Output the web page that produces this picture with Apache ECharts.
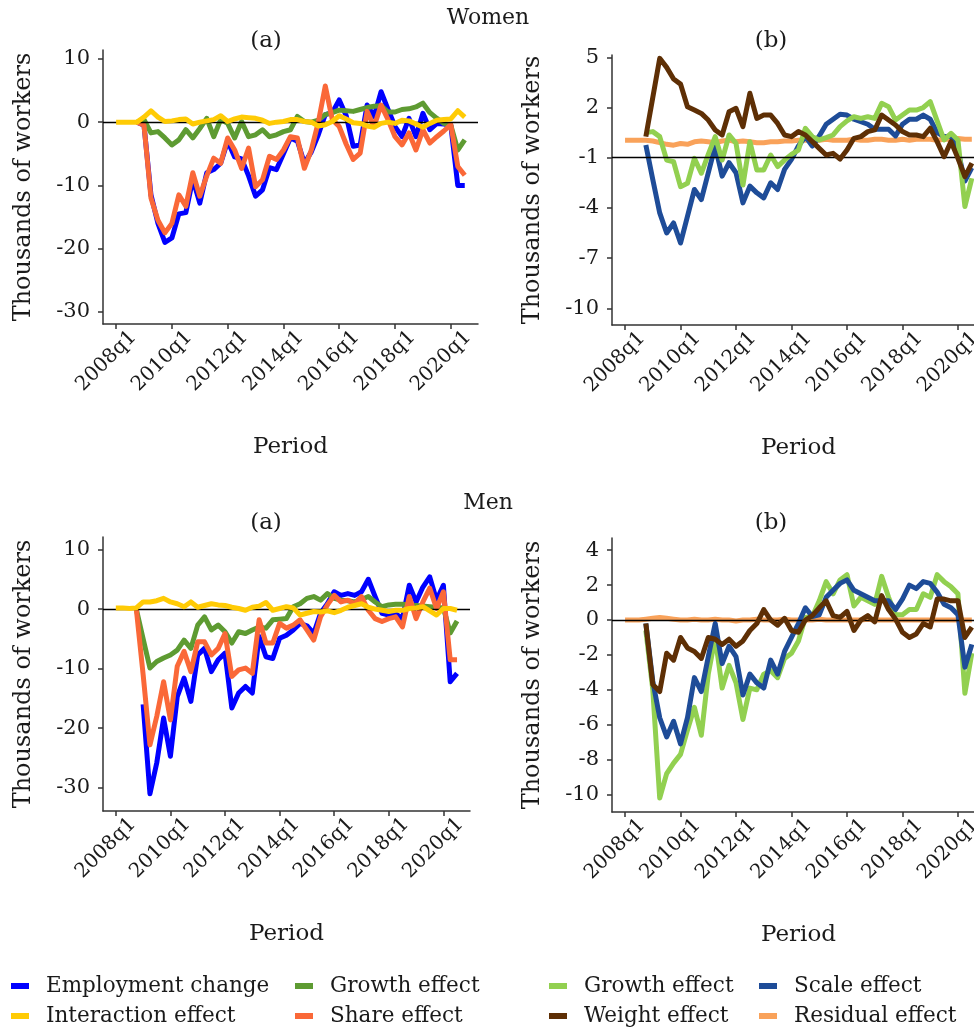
<!DOCTYPE html>
<html><head><meta charset="utf-8">
<script src="https://cdn.jsdelivr.net/npm/echarts@6/dist/echarts.min.js"></script>
<style>html,body{margin:0;padding:0;background:#fff}#c{width:974px;height:1030px}</style>
</head><body><div id="c"></div>
<script>
// ---------- DATA ----------
const periods = ['2008q1','2008q2','2008q3','2008q4','2009q1','2009q2','2009q3','2009q4',
'2010q1','2010q2','2010q3','2010q4','2011q1','2011q2','2011q3','2011q4',
'2012q1','2012q2','2012q3','2012q4','2013q1','2013q2','2013q3','2013q4',
'2014q1','2014q2','2014q3','2014q4','2015q1','2015q2','2015q3','2015q4',
'2016q1','2016q2','2016q3','2016q4','2017q1','2017q2','2017q3','2017q4',
'2018q1','2018q2','2018q3','2018q4','2019q1','2019q2','2019q3','2019q4',
'2020q1','2020q2','2020q3'];
const xTickLabels = ['2008q1','2010q1','2012q1','2014q1','2016q1','2018q1','2020q1'];

// Women (a)
const womenEmployment = [null,null,null,0,-0.5,-11.5,-16,-19,-18.3,-14.5,-14.3,-9,-12.8,-8,-7.5,-6.5,-3,-5.5,-5.8,-8.5,-11.7,-10.7,-7.2,-7.5,-5,-2.5,-3,-6.5,-4.7,-2,1.2,1.5,3.5,1,-3.8,-3.6,2.7,0.9,4.8,2,-0.7,-2.3,0.6,-2.3,1.4,-1.2,-0.2,-0.3,-0.5,-10,-10];
const womenGrowthA = [null,null,null,0,0.4,-1.7,-1.5,-2.5,-3.6,-2.8,-1.2,-2.5,-1,0.6,-2.3,0.4,-0.2,-2.5,0.1,-2.3,-2,-1.2,-2.3,-2,-1.5,-1.2,0.9,0.1,0,0.3,1.2,1.5,1.9,1.8,1.7,2,2.3,2.5,2.6,1.6,1.6,2,2.1,2.4,3,1.5,0.6,-0.2,-0.5,-4.4,-2.8];
const womenShare = [null,null,null,0,-0.5,-12,-15.5,-17.5,-16,-11.5,-13.3,-8,-11.7,-8.5,-5.7,-6.5,-2.5,-4.4,-7.3,-4.1,-10.2,-9.1,-5.4,-5.9,-4.4,-2.3,-2.5,-7.3,-4.4,0,5.7,0.4,-0.7,-3.5,-5.9,-4.9,1.7,-0.7,2.7,0.4,-2.3,-3.6,-1.7,-4.4,-1.2,-3.3,-2.3,-1.4,-0.4,-7,-8.4];
const womenInteraction = [0,0,0,0,0.8,1.8,0.8,0.1,0.2,0.4,0.5,-0.3,0,0.2,0.4,1,0.1,0.5,0.8,0.7,0.6,0.3,-0.2,0,0.1,0.4,0.4,0.1,0,-0.6,-0.4,0.1,1,0.5,-0.1,-0.2,-0.6,-0.8,-0.2,0,-0.2,0.3,0.2,-0.3,-0.8,-0.2,0.3,0.4,0.5,1.8,0.8];
// Women (b)
const womenGrowthB = [null,null,null,0.5,0.56,0.26,-1.14,-1.24,-2.73,-2.53,-1.04,-1.93,-0.8,0.26,-1.14,0.36,-0.14,-2.63,-0.04,-1.73,-1.73,-0.84,-1.53,-1.14,-0.8,-0.54,0.76,0.26,0.06,0.2,0.36,0.86,1.2,1.45,1.35,1.45,1.35,2.25,2.05,1.25,1.55,1.85,1.85,2.0,2.35,1.2,0.06,0.46,0.06,-3.92,-2.23];
const womenScale = [null,null,null,-0.24,-2.3,-4.3,-5.5,-4.9,-6.1,-4.5,-2.9,-3.5,-1.9,-0.3,-2.1,-1.3,-1.9,-3.7,-2.7,-3.1,-3.4,-2.5,-2.9,-1.7,-1.1,-0.3,0.26,-0.3,0.3,1,1.3,1.6,1.55,1.3,1.15,1,0.7,0.7,0.7,0.3,1,1.3,1.3,1.55,1.3,0.5,0.26,0.3,-0.6,-2.4,-1.6];
const womenWeight = [null,null,null,0.26,2.6,4.94,4.4,3.7,3.4,2.05,1.85,1.65,1.25,0.66,0.36,1.75,1.95,0.86,2.85,1.35,1.55,1.55,1.05,0.36,0.26,0.56,0.36,-0.04,-0.44,-0.84,-0.74,-1.08,-0.54,0.16,0.26,0.56,0.66,1.55,1.25,0.96,0.56,0.36,0.36,0.26,0.76,-0.04,-0.94,-0.04,-1.04,-2.13,-1.33];
const womenResidual = [0.05,0.05,0.05,0.05,0,-0.1,-0.2,-0.25,-0.15,-0.2,-0.05,0,-0.05,-0.1,0,0.05,-0.05,0,-0.05,-0.1,-0.1,-0.05,-0.05,0,0,0.05,0.05,0.05,0.05,0.1,0.05,0.05,0.05,0.1,0.05,0.05,0.1,0.1,0.05,0.05,0.1,0.05,0.1,0.1,0.1,0.05,0.1,0.1,0.15,0.1,0.1];
// Men (a)
const menEmployment = [null,null,null,null,-16,-31,-25.8,-18.3,-24.7,-14.7,-11.6,-15.5,-7.7,-6.6,-10.5,-8.5,-7.4,-16.6,-14.1,-13,-14.1,-4.6,-8,-8.3,-4.9,-4.4,-3.5,-2.4,-2.8,-4.1,-0.7,0.9,2.9,2.3,2.6,2.3,2.9,5,2.1,-0.7,-1,-0.8,-1.6,4,1.2,3.7,5.4,1.5,4,-12.2,-10.8];
const menGrowthA = [null,null,null,0,-5,-9.9,-8.8,-8.2,-7.7,-6.9,-5.2,-6.6,-2.7,-1.3,-3.5,-2.7,-3.8,-5.7,-3.8,-4.1,-3.5,-3,-3.2,-1.8,-1.7,-1.6,0.4,0.9,1.8,2.1,1.5,2.6,1.8,1.5,1.4,1.2,1.6,2.1,1.2,0.4,0.7,0.8,0.8,0.7,0.6,0.5,0.4,0.3,0.2,-4,-2];
const menShare = [null,null,null,0,-11,-22.8,-18,-12.2,-18.6,-9.6,-7.1,-10.5,-5.5,-5.5,-7.7,-6.6,-4.1,-11.3,-10.2,-9.9,-10.8,-1.8,-5.7,-5.7,-2.4,-3.2,-2.7,-1.8,-3.5,-5.2,-1.3,0.7,2.3,1.2,1.5,0.9,2.1,-0.2,-1.6,-2.1,-1.6,-1.3,-3,2.1,-1.6,1.2,3.5,0.1,2.9,-8.5,-8.5];
const menInteraction = [0.2,0.2,0.1,0.2,1.2,1.2,1.4,1.8,1.2,0.9,0.4,1.2,0.3,0.6,0.9,0.7,0.6,0.3,0.1,-0.2,0.3,0.5,1.1,-0.2,0.1,0.4,0.2,-1,-0.7,-0.4,-0.5,-0.3,-0.6,-0.2,0.3,0.6,0.9,0.3,0,-0.2,-0.4,-0.2,-0.2,0.1,0.2,0.4,-0.3,-1,0.1,0.1,-0.2];
// Men (b)
const menGrowthB = [null,null,null,-0.6,-4,-10.2,-8.8,-8.2,-7.7,-6.3,-5,-6.6,-3.1,-1,-3.9,-2.6,-3.6,-5.7,-3.9,-4,-3.1,-2.9,-3.3,-2.2,-1.9,-1.2,0.15,0.2,1.1,2.2,1.5,2.3,2.6,0.8,1.3,1.1,0.9,2.5,1.3,0.3,0.3,0.6,0.6,1.5,1.3,2.6,2.2,1.9,1.5,-4.2,-1.9];
const menScale = [null,null,null,-0.2,-3.5,-5.6,-6.7,-5.8,-7.1,-5.6,-3.3,-4.1,-2.1,-0.2,-2.5,-1.5,-2.1,-4.3,-3.1,-3.6,-3.9,-2.3,-3.1,-1.8,-1,-0.2,0.7,0.2,0.3,1.3,1.7,2.1,2.3,1.7,1.5,1.3,1.1,1.1,1.1,0.6,1.2,2,1.8,2.2,2.1,1.6,0.9,0.7,0.3,-2.7,-1.4];
const menWeight = [null,null,null,-0.2,-3.7,-4.1,-1.9,-2.3,-1,-1.6,-1.8,-2.2,-1,-1.1,-1.4,-1.1,-1.5,-1.2,-0.6,-0.2,0.6,0,-0.3,0.1,-0.6,-0.7,0,0.25,0.7,1.1,0.25,0.15,0.5,-0.6,0,0.25,-0.1,1.4,0.6,0.05,-0.7,-1,-0.8,-0.2,-0.4,1.2,1.2,1.1,1.1,-1,-0.4];
const menResidual = [0,0,0,0.05,0.1,0.15,0.1,0.05,0,0,0.05,0,0,0.05,0,0,-0.05,0,0,0.05,0,0,0,0.05,0,0,0,0,0.05,0,0,0,0,0,0,0.05,0,0,0,0,0,0,0,0,0,0,0,0,0,0,0];

const yTicksWomenA = [10,0,-10,-20,-30];
const yTicksWomenB = [5,2,-1,-4,-7,-10];
const yTicksMenA = [10,0,-10,-20,-30];
const yTicksMenB = [4,2,0,-2,-4,-6,-8,-10];

// ---------- STYLE ----------
const FONT = 'DejaVu Serif';
const TXT = '#1a1a1a';
const AX = '#333';
const C = {
  emp: '#0000FF', growA: '#5E9B32', inter: '#FFCB05', share: '#FA6838',
  growB: '#92D050', scale: '#1E4C98', weight: '#5E2F05', resid: '#F9A25A'
};
const xTickIdx = xTickLabels.map(l => periods.indexOf(l));
const LABEL_SHIFT = 1.45; // rotated labels sit slightly right of their tick
const xLabelPos = xTickIdx.map(i => i + LABEL_SHIFT);

const grids = [
  {left: 103, top: 50, width: 375, height: 274},
  {left: 612, top: 55, width: 373, height: 270},
  {left: 103, top: 537, width: 367, height: 274},
  {left: 612, top: 538, width: 373, height: 274}
];
const yRanges = [[-31.9, 11.4], [-11.0, 5.14], [-33.9, 12.1], [-11.0, 4.7]];
const yTicks = [yTicksWomenA, yTicksWomenB, yTicksMenA, yTicksMenB];

function xAxis(gi) {
  return {
    type: 'value', gridIndex: gi, min: -1.88, max: 51.9,
    splitLine: {show: false},
    axisLine: {show: true, onZero: false, lineStyle: {color: AX, width: 1.5}},
    axisTick: {show: true, customValues: xTickIdx, length: 5, lineStyle: {color: AX, width: 1.5}},
    axisLabel: {show: true, customValues: xLabelPos, rotate: 45, margin: 3, verticalAlign: 'top',
      hideOverlap: false, showMaxLabel: true, showMinLabel: true,
      formatter: v => periods[Math.round(v - LABEL_SHIFT)], fontFamily: FONT, fontSize: 20, color: TXT},
    name: 'Period', nameLocation: 'middle', nameGap: 112,
    nameTextStyle: {fontFamily: FONT, fontSize: 23, color: TXT}
  };
}
function yAxis(gi) {
  return {
    type: 'value', gridIndex: gi, min: yRanges[gi][0], max: yRanges[gi][1],
    splitLine: {show: false},
    axisLine: {show: true, onZero: false, lineStyle: {color: AX, width: 1.5}},
    axisTick: {show: true, customValues: yTicks[gi], length: 5, lineStyle: {color: AX, width: 1.5}},
    axisLabel: {show: true, customValues: yTicks[gi], margin: 13,
      fontFamily: FONT, fontSize: 21, color: TXT},
    name: 'Thousands of workers', nameLocation: 'middle', nameGap: 67,
    nameTextStyle: {fontFamily: FONT, fontSize: 24, color: TXT}
  };
}
function line(name, vals, color, gi, z, refY) {
  const data = [];
  vals.forEach((v, i) => { if (v !== null) data.push([i, v]); });
  const s = {
    type: 'line', name, data, xAxisIndex: gi, yAxisIndex: gi, z,
    showSymbol: false, symbol: 'none', smooth: false,
    lineStyle: {color, width: 5, join: 'round', cap: 'butt'},
    itemStyle: {color}, emphasis: {disabled: true}, animation: false
  };
  if (refY !== undefined) {
    s.markLine = {silent: true, symbol: 'none', animation: false,
      label: {show: false}, lineStyle: {color: '#000', width: 1.3, type: 'solid'},
      data: [{yAxis: refY}]};
  }
  return s;
}

const series = [
  line('Employment change', womenEmployment, C.emp, 0, 2, 0),
  line('Growth effect', womenGrowthA, C.growA, 0, 3),
  line('Share effect', womenShare, C.share, 0, 4),
  line('Interaction effect', womenInteraction, C.inter, 0, 5),

  line('Residual effect', womenResidual, C.resid, 1, 2, -1),
  line('Scale effect', womenScale, C.scale, 1, 3),
  line('Growth effect (b)', womenGrowthB, C.growB, 1, 4),
  line('Weight effect', womenWeight, C.weight, 1, 5),

  line('Employment change', menEmployment, C.emp, 2, 2, 0),
  line('Growth effect', menGrowthA, C.growA, 2, 3),
  line('Share effect', menShare, C.share, 2, 4),
  line('Interaction effect', menInteraction, C.inter, 2, 5),

  line('Residual effect', menResidual, C.resid, 3, 2, 0),
  line('Growth effect (b)', menGrowthB, C.growB, 3, 3),
  line('Scale effect', menScale, C.scale, 3, 4),
  line('Weight effect', menWeight, C.weight, 3, 5)
];

const legendItems = [
  ['Employment change', 11, 975], ['Growth effect', 295, 975],
  ['Interaction effect', 11, 1005], ['Share effect', 295, 1005],
  ['Growth effect (b)', 549, 975], ['Scale effect', 759, 975],
  ['Weight effect', 549, 1005], ['Residual effect', 759, 1005]
];
const legends = legendItems.map(([n, l, t]) => ({
  left: l, top: t, data: [n], icon: 'rect', itemWidth: 18, itemHeight: 6,
  selectedMode: false, padding: 0,
  formatter: s => s.replace(' (b)', ''),
  textStyle: {fontFamily: FONT, fontSize: 21.5, color: TXT, padding: [0, 0, 0, 12]}
}));

const titleText = (text, x, y, size) => ({type: 'text', x, y,
  style: {text, fill: TXT, font: size + 'px "DejaVu Serif"', textAlign: 'center', textVerticalAlign: 'middle'}});

const chart = echarts.init(document.getElementById('c'), null, {renderer: 'canvas'});
chart.setOption({
  animation: false,
  backgroundColor: '#fff',
  grid: grids.map(g => Object.assign({containLabel: false, outerBoundsMode: 'none'}, g)),
  xAxis: [0,1,2,3].map(xAxis),
  yAxis: [0,1,2,3].map(yAxis),
  legend: legends,
  graphic: [
    titleText('Women', 488, 18, 22), titleText('(a)', 266, 41, 23), titleText('(b)', 771, 41, 23),
    titleText('Men', 488, 503, 22), titleText('(a)', 266, 523, 23), titleText('(b)', 771, 523, 23)
  ],
  series
});
</script></body></html>
